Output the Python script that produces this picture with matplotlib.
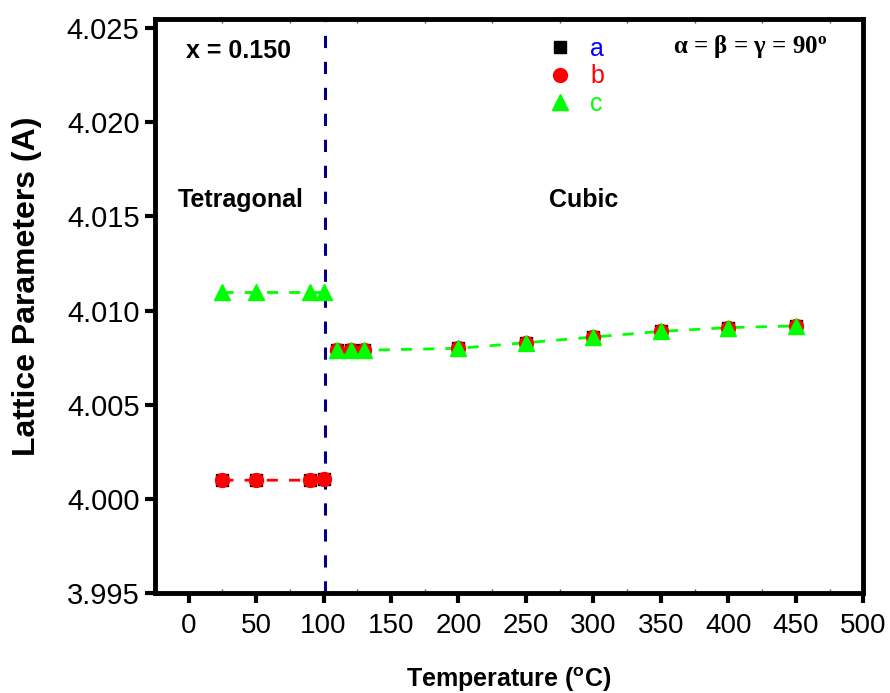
import matplotlib
matplotlib.use("Agg")
from matplotlib import pyplot as plt
from matplotlib.lines import Line2D
from matplotlib.ticker import MultipleLocator

plt.rcParams['font.family'] = ['Liberation Sans', 'DejaVu Sans']

# tetragonal phase (below ~100 C)
temp_tet = [25, 50, 90, 100]
a_tet = [4.0010, 4.0010, 4.0010, 4.00105]
b_tet = [4.0010, 4.0010, 4.0010, 4.00105]
c_tet = [4.0110, 4.0110, 4.0110, 4.0110]

# cubic phase
temp_cub = [110, 120, 130, 200, 250, 300, 350, 400, 450]
a_cub = [4.0079, 4.0079, 4.0079, 4.0080, 4.0083, 4.0086, 4.0089, 4.0091, 4.0092]
b_cub = [4.0079, 4.0079, 4.0079, 4.0080, 4.0083, 4.0086, 4.0089, 4.0091, 4.0092]
c_cub = [4.0079, 4.0079, 4.0079, 4.0080, 4.0083, 4.0086, 4.0089, 4.0091, 4.0092]

t_transition = 101

GREEN = '#00ff00'
RED = '#ff0000'

fig = plt.figure(figsize=(8.9, 6.93), dpi=100)
ax = fig.add_axes([0.174, 0.144, 0.796, 0.829])

# dashed guide lines
ax.plot(temp_tet, b_tet, '--', color=RED, lw=2, dashes=(4, 4), zorder=2)
ax.plot(temp_tet, c_tet, '--', color=GREEN, lw=2, dashes=(4, 4), zorder=2)
ax.plot([temp_cub[0] - 2] + temp_cub[1:-1] + [temp_cub[-1] + 5],
        c_cub, '--', color=GREEN, lw=2, dashes=(4, 4), zorder=2)

for temps, a, b, c in [(temp_tet, a_tet, b_tet, c_tet), (temp_cub, a_cub, b_cub, c_cub)]:
    ax.plot(temps, a, 's', color='black', ms=9, ls='none', zorder=3)
    ax.plot(temps, b, 'o', color=RED, ms=10, ls='none', zorder=4)
    ax.plot(temps, c, '^', color=GREEN, ms=11, ls='none', zorder=5)

ax.axvline(t_transition, color='#000080', ls='--', lw=2.2, dashes=(4, 4.5), zorder=1)

ax.set_xlim(-25, 500)
ax.set_ylim(3.995, 4.0255)
ax.xaxis.set_major_locator(MultipleLocator(50))
ax.xaxis.set_minor_locator(MultipleLocator(25))
ax.yaxis.set_major_locator(MultipleLocator(0.005))
ax.yaxis.set_major_formatter(plt.FormatStrFormatter('%.3f'))

for sp in ax.spines.values():
    sp.set_linewidth(3.5)
ax.tick_params(which='major', direction='out', length=7, width=3, pad=4)
ax.tick_params(axis='y', which='major', labelsize=21)
ax.tick_params(axis='x', which='minor', direction='in', length=3, width=1, color='#555555',
               top=True)
ax.tick_params(axis='x', which='major', labelsize=20, pad=7)

ax.set_xlabel('Temperature ($\\mathregular{^{o}}$C)', fontsize=18, fontweight='bold', labelpad=19)
ax.set_ylabel('Lattice Parameters (A)', fontsize=23, fontweight='bold')
ax.yaxis.set_label_coords(-0.16, 0.535)

ax.text(-2, 4.0238, 'x = 0.150', fontsize=18, fontweight='bold', va='center')
ax.text(-8, 4.0159, 'Tetragonal', fontsize=18, fontweight='bold', va='center')
ax.text(267, 4.0159, 'Cubic', fontsize=18, fontweight='bold', va='center')
ax.text(359, 4.0240, 'α = β = γ = 90$\\mathregular{^{o}}$', fontsize=18, fontweight='bold',
        family=['Liberation Serif', 'DejaVu Serif'], va='center')

handles = [
    Line2D([], [], marker='s', color='black', ls='none', ms=9),
    Line2D([], [], marker='o', color=RED, ls='none', ms=10),
    Line2D([], [], marker='^', color=GREEN, ls='none', ms=11),
]
ax.legend(handles, ['a', 'b', 'c'], loc='upper left', bbox_to_anchor=(0.519, 1.008),
          frameon=False, fontsize=18, labelcolor=['#0000ff', RED, GREEN],
          handletextpad=0.6, labelspacing=0.15, handlelength=1.2)

fig.savefig('out.png', dpi=100)
